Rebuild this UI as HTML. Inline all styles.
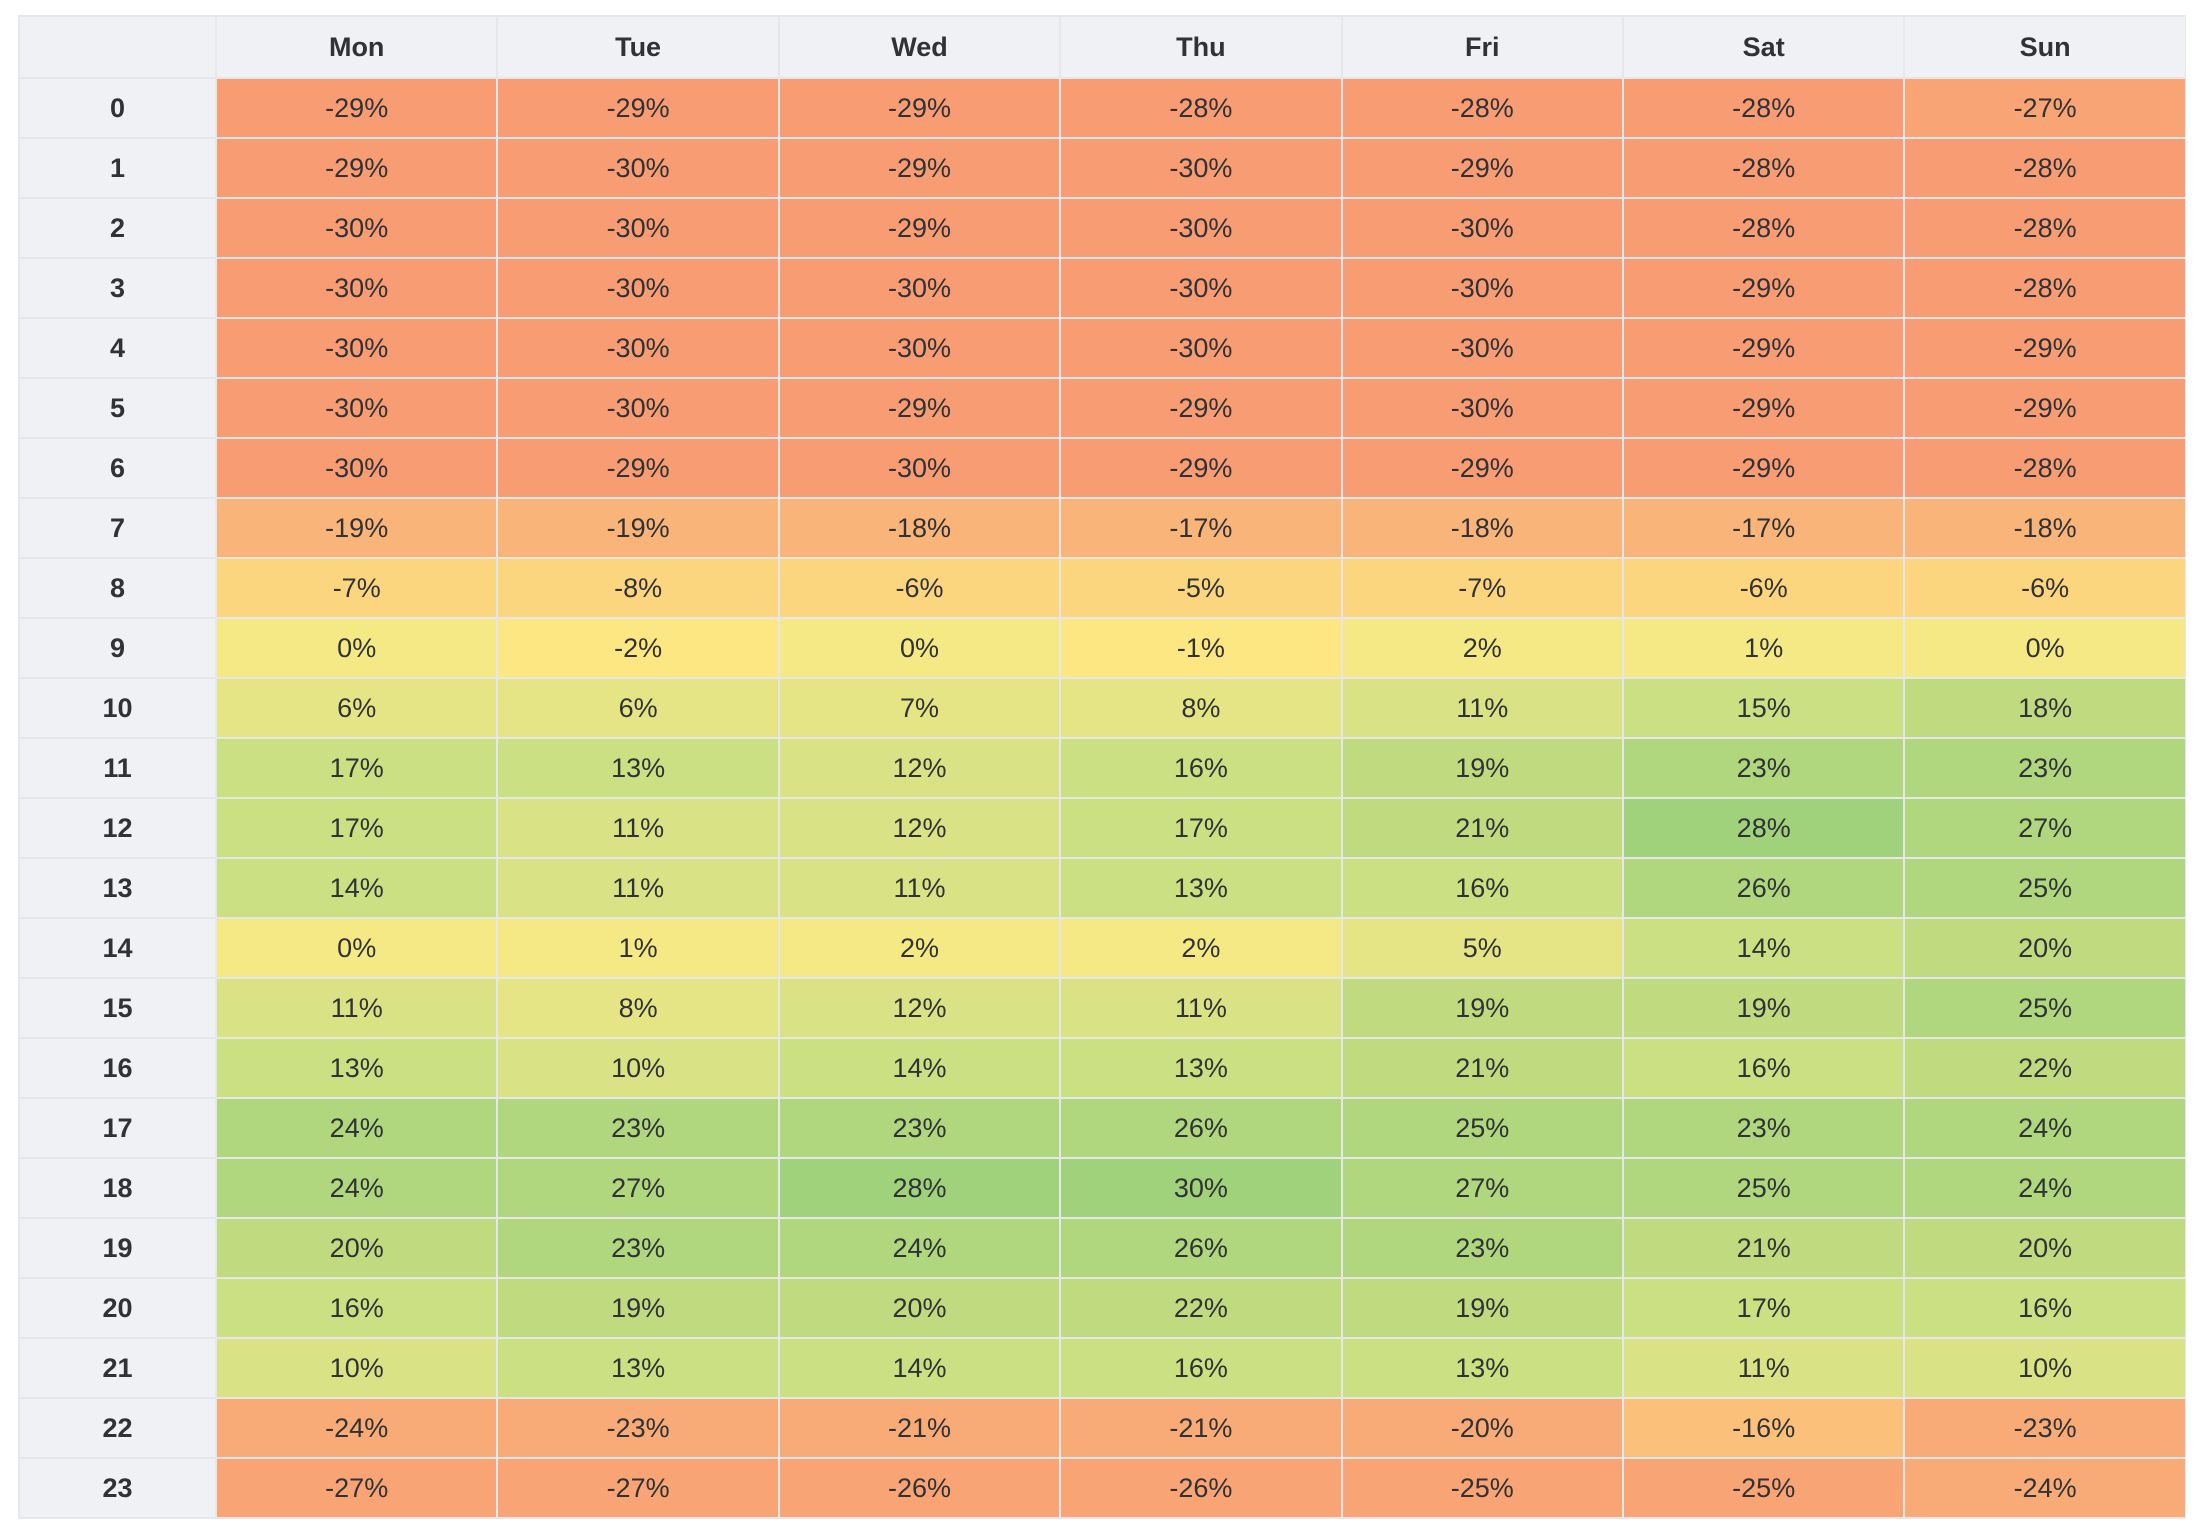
<!DOCTYPE html>
<html><head><meta charset="utf-8">
<style>
html,body{margin:0;padding:0;background:#fff;width:2202px;height:1532px;overflow:hidden}
#hm{position:absolute;left:18px;top:15px;width:2168px;height:1504px;background:#e6e7ea}
.c{position:absolute;display:flex;align-items:center;justify-content:center;box-sizing:border-box;font-family:"Liberation Sans",sans-serif;color:#303236}
.h{background:#f0f1f4;font-weight:bold;font-size:27px}
.v{font-size:27px}
</style></head><body>
<div id="hm"></div>
<script>
const days=["Mon","Tue","Wed","Thu","Fri","Sat","Sun"];
const hours=["0","1","2","3","4","5","6","7","8","9","10","11","12","13","14","15","16","17","18","19","20","21","22","23"];
const mon=[-29,-29,-30,-30,-30,-30,-30,-19,-7,0,6,17,17,14,0,11,13,24,24,20,16,10,-24,-27];
const tue=[-29,-30,-30,-30,-30,-30,-29,-19,-8,-2,6,13,11,11,1,8,10,23,27,23,19,13,-23,-27];
const wed=[-29,-29,-29,-30,-30,-29,-30,-18,-6,0,7,12,12,11,2,12,14,23,28,24,20,14,-21,-26];
const thu=[-28,-30,-30,-30,-30,-29,-29,-17,-5,-1,8,16,17,13,2,11,13,26,30,26,22,16,-21,-26];
const fri=[-28,-29,-30,-30,-30,-30,-29,-18,-7,2,11,19,21,16,5,19,21,25,27,23,19,13,-20,-25];
const sat=[-28,-28,-28,-29,-29,-29,-29,-17,-6,1,15,23,28,26,14,19,16,23,25,21,17,11,-16,-25];
const sun=[-27,-28,-28,-28,-29,-29,-28,-18,-6,0,18,23,27,25,20,25,22,24,24,20,16,10,-23,-24];
const series=[mon,tue,wed,thu,fri,sat,sun];
function color(v){
  if(v>=28)return"#a0d17b";if(v>=23)return"#b0d67e";if(v>=18)return"#c0da80";
  if(v>=13)return"#cbdf83";if(v>=9)return"#d9e385";if(v>=5)return"#e6e585";
  if(v>=0)return"#f5e985";if(v>=-3)return"#fde783";if(v>=-9)return"#fcd67f";
  if(v>=-16)return"#fbc07a";if(v>=-19)return"#f9b479";if(v>=-24)return"#f9ab77";
  if(v>=-27)return"#f8a475";return"#f89c74";
}
const hm=document.getElementById('hm');
const X0=2,HW=195,CW=281.4,Y0=2,HH=60,RH=60,G=2;
const xp=i=>X0+HW+G+i*CW, yp=r=>Y0+HH+G+r*RH;
function cell(x,y,w,h,cls,txt,bg){const d=document.createElement('div');d.className='c '+cls;
d.style.left=x+'px';d.style.top=y+'px';d.style.width=w+'px';d.style.height=h+'px';if(bg)d.style.background=bg;d.textContent=txt;hm.appendChild(d);return d;}
let cc=cell(X0,Y0,HW,HH,'h','');


days.forEach((d,i)=>{const e=cell(xp(i),Y0,CW-G,HH,'h',d);

});
hours.forEach((h,r)=>{const e=cell(X0,yp(r),HW,RH-G,'h',h);


series.forEach((s,i)=>{const v=s[r];const c=cell(xp(i),yp(r),CW-G,RH-G,'v',v+'%',color(v));

});});
</script>
</body></html>
